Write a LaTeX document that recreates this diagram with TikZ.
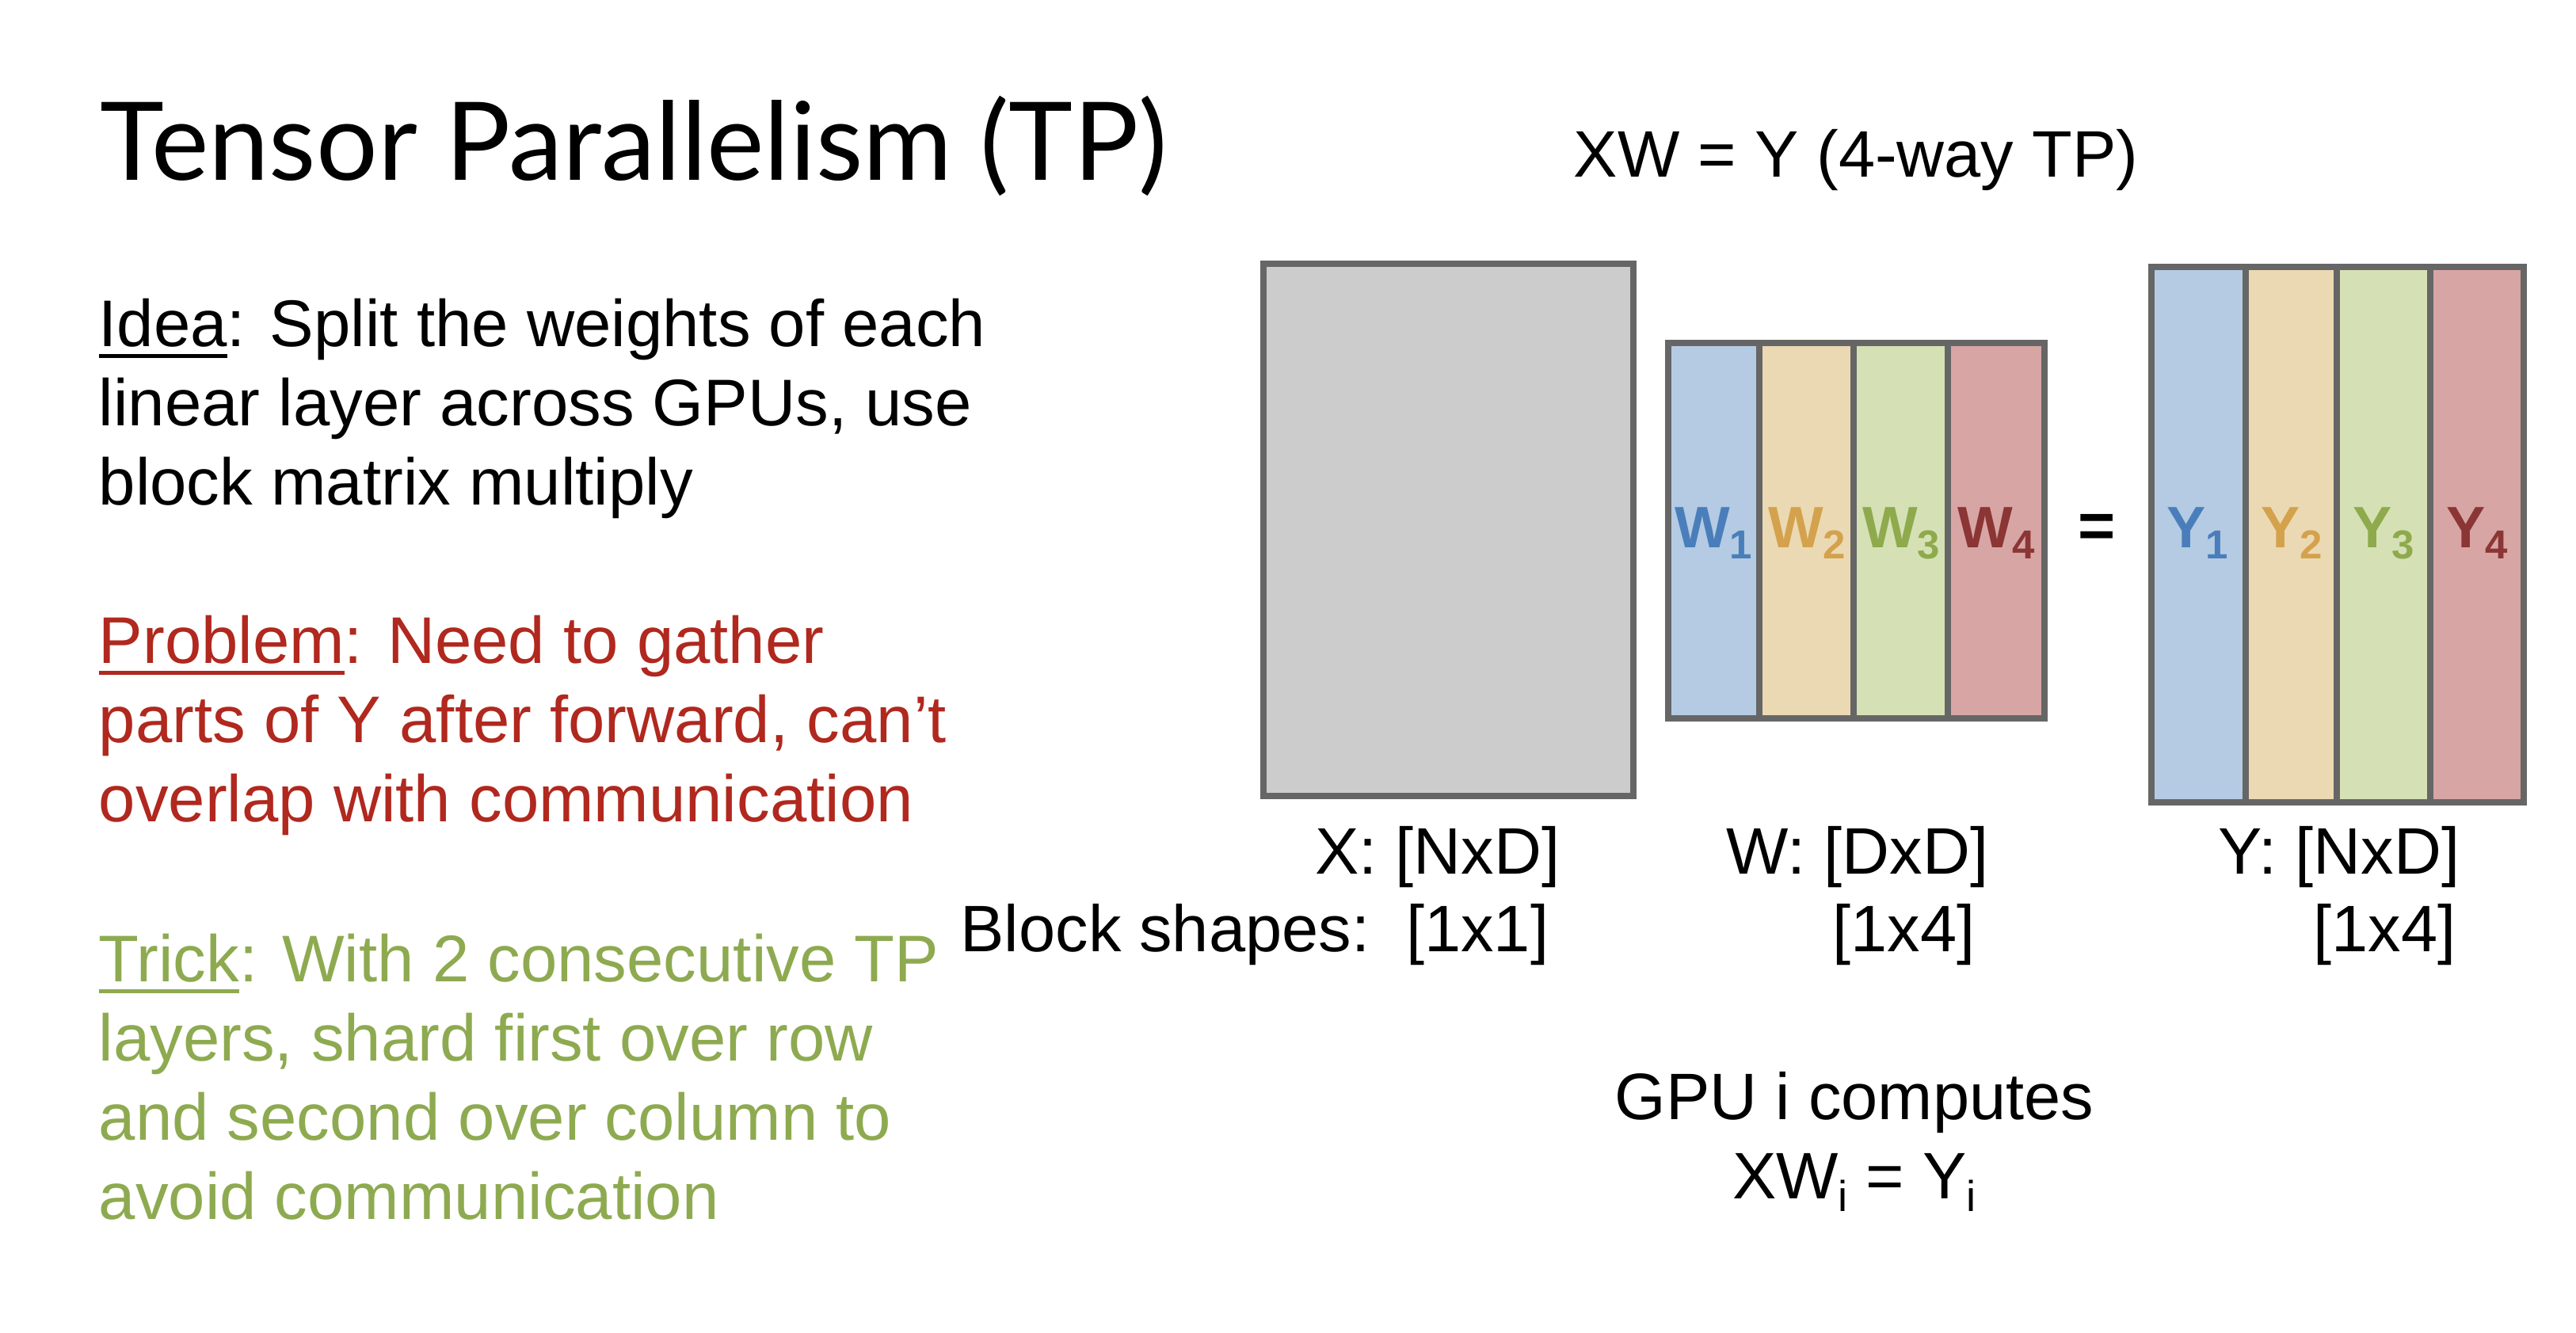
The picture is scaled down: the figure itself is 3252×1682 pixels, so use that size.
\documentclass[tikz,border=0pt]{standalone}
\usepackage{fontspec}
\setmainfont{Liberation Sans}
\newfontfamily\titlefont{Lato}
\definecolor{boxgray}{HTML}{CCCCCC}
\definecolor{edgegray}{HTML}{666666}
\definecolor{cblue}{HTML}{B4CBE3}
\definecolor{ctan}{HTML}{EBD9B4}
\definecolor{cgreen}{HTML}{D5E1B5}
\definecolor{cred}{HTML}{D8A5A5}
\definecolor{lblue}{HTML}{4A7EBB}
\definecolor{ltan}{HTML}{D4A24C}
\definecolor{lgreen}{HTML}{8EAA4C}
\definecolor{lred}{HTML}{8B3535}
\definecolor{probred}{HTML}{B0281E}
\definecolor{trickgreen}{HTML}{8EAA50}
\newcommand{\lsub}[1]{\raisebox{-0.2em}{\fontsize{14.5}{14.5}\selectfont #1}}
\newcommand{\tsub}[1]{\raisebox{-0.2em}{\fontsize{15.5}{15.5}\selectfont #1}}
\newcommand{\myul}[1]{\setbox0\hbox{#1}\rlap{\rule[-4.3pt]{\wd0}{1.45pt}}\box0}
\tikzset{
  body/.style={inner sep=0pt, anchor=base west, font=\fontsize{23.7}{28}\selectfont},
  lbl/.style={inner sep=0pt, anchor=base, font=\fontsize{23.6}{28}\selectfont},
  collbl/.style={inner sep=0pt, anchor=base, font=\fontsize{21}{25}\selectfont\bfseries},
  mat/.style={draw=edgegray, line width=2.3pt},
}
\begin{document}
\begin{tikzpicture}[x=0.01cm, y=-0.01cm]
\useasboundingbox (0,0) rectangle (3252,1682);
% title
\node[inner sep=0pt, anchor=base west, font=\titlefont\fontsize{39}{46}\selectfont] (title) at (126,227) {Tensor Parallelism (TP)};
% left text
\node[body] (i1) at (124,437) {\myul{Idea}: Split the weights of each};
\node[body] (i2) at (124,537) {linear layer across GPUs, use};
\node[body] (i3) at (124,637) {block matrix multiply};
\node[body, text=probred] (p1) at (124,837) {\myul{Problem}: Need to gather};
\node[body, text=probred] (p2) at (124,937) {parts of Y after forward, can’t};
\node[body, text=probred] (p3) at (124,1037) {overlap with communication};
\node[body, text=trickgreen] (t1) at (124,1239) {\myul{Trick}: With 2 consecutive TP};
\node[body, text=trickgreen] (t2) at (124,1339) {layers, shard first over row};
\node[body, text=trickgreen] (t3) at (124,1439) {and second over column to};
\node[body, text=trickgreen] (t4) at (124,1539) {avoid communication};
% heading right
\node[lbl] (eqhead) at (2343,224) {XW = Y (4-way TP)};
% X matrix
\draw[mat, fill=boxgray] (1595,333) rectangle (2062,1005);
% W matrix
\fill[cblue] (2106,433) rectangle (2221,907);
\fill[ctan] (2221,433) rectangle (2340,907);
\fill[cgreen] (2340,433) rectangle (2459,907);
\fill[cred] (2459,433) rectangle (2581,907);
\draw[mat] (2221,433) -- (2221,907) (2340,433) -- (2340,907) (2459,433) -- (2459,907);
\draw[mat] (2106,433) rectangle (2581,907);
% Y matrix
\fill[cblue] (2716,337) rectangle (2835,1013);
\fill[ctan] (2835,337) rectangle (2950,1013);
\fill[cgreen] (2950,337) rectangle (3068,1013);
\fill[cred] (3068,337) rectangle (3186,1013);
\draw[mat] (2835,337) -- (2835,1013) (2950,337) -- (2950,1013) (3068,337) -- (3068,1013);
\draw[mat] (2716,337) rectangle (3186,1013);
% column labels
\node[collbl, text=lblue] (w1) at (2163,691) {W\lsub{1}};
\node[collbl, text=ltan] (w2) at (2281,691) {W\lsub{2}};
\node[collbl, text=lgreen] (w3) at (2400,691) {W\lsub{3}};
\node[collbl, text=lred] (w4) at (2520,691) {W\lsub{4}};
\node[inner sep=0pt, font=\fontsize{23}{28}\selectfont\bfseries] (eq) at (2647,670) {=};
\node[collbl, text=lblue] (y1) at (2774,691) {Y\lsub{1}};
\node[collbl, text=ltan] (y2) at (2893,691) {Y\lsub{2}};
\node[collbl, text=lgreen] (y3) at (3009,691) {Y\lsub{3}};
\node[collbl, text=lred] (y4) at (3127,691) {Y\lsub{4}};
% shape labels
\node[lbl, anchor=base east] (xs) at (1970,1103) {X: [NxD]};
\node[lbl, anchor=base west] (ws) at (2179,1103) {W: [DxD]};
\node[lbl, anchor=base west] (ys) at (2800,1103) {Y: [NxD]};
\node[lbl, anchor=base east] (bs) at (1956,1201) {Block shapes:\ \ [1x1]};
\node[lbl, anchor=base west] (wb) at (2313,1201) {[1x4]};
\node[lbl, anchor=base west] (yb) at (2920,1201) {[1x4]};
\node[lbl] (gpu) at (2341,1413) {GPU i computes};
\node[lbl] (xwy) at (2341,1513) {XW\tsub{i} = Y\tsub{i}};
\end{tikzpicture}
\end{document}
